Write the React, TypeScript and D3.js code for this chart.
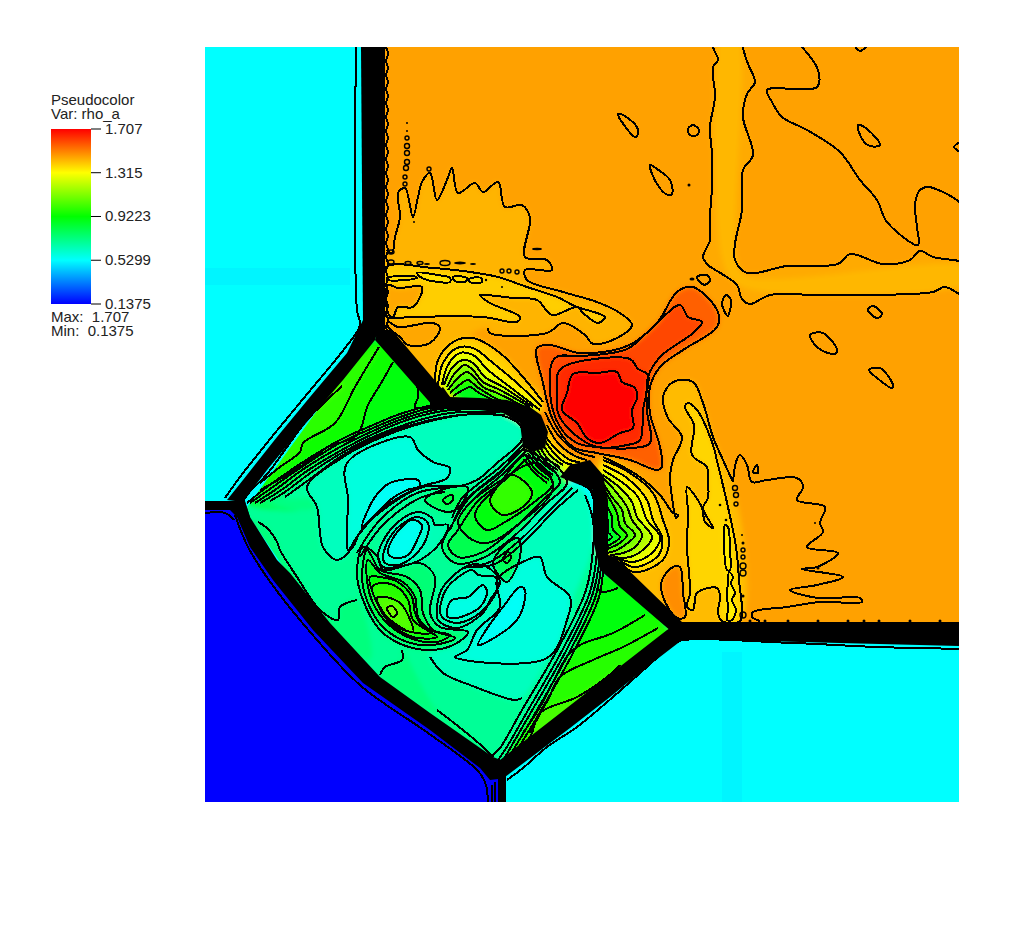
import React from 'react';
import * as d3 from 'd3';

// rho_a iso-levels, in mesh cells. Each level: value, contour points,
// optional hidden points (only used to close the fill under a shock).
type P = number[];
type Level = { v: number; pts: P[]; tail?: P[]; line?: boolean };
const lv = (v: number, pts: P[], tail?: P[], line = true): Level => ({ v, pts, tail, line });

const legendTicks = [1.707, 1.315, 0.9223, 0.5299, 0.1375];
const legendLabels = ['1.707', '1.315', '0.9223', '0.5299', '0.1375'];
const legendColors = ['#ff0000', '#ffff00', '#00ff00', '#00ffff', '#0000ff'];

const ambientCyan: P[] = [[5, 7], [759, 7], [759, 762], [5, 762]];
const ambientBlue: P[] = [[5, 470], [40, 470], [120, 585], [230, 685], [298, 735], [298, 762], [5, 762]];
const ambientStreaks: P[][] = [
  [[5, 228], [150, 228], [150, 245], [5, 245]],
  [[522, 612], [542, 612], [542, 762], [522, 762]],
];
const interiorClip: P[] = [[172, 7], [759, 7], [759, 592], [478, 592], [302, 728], [230, 678], [180, 642], [130, 588], [90, 537], [45, 470], [172, 295]];

const upperField: Level[] = [
  lv(1.46, [[172, -30], [800, -30], [800, 592], [478, 592], [400, 517], [395, 450], [340, 395], [240, 365], [178, 295]], undefined, false),
  lv(1.445, [[513, -10], [513, 7], [518, 20], [513, 27], [515, 57], [510, 87], [512, 114], [512, 147], [510, 177], [510, 200], [503, 217], [508, 225], [522, 234], [537, 245], [542, 259], [550, 264], [570, 255], [617, 255], [667, 255], [733, 252], [745, 247], [770, 258], [770, 226], [733, 217], [720, 211], [710, 220], [683, 224], [650, 214], [638, 224], [587, 226], [547, 233], [535, 220], [535, 204], [542, 170], [543, 130], [553, 115], [543, 77], [547, 54], [555, 42], [548, 24], [543, 7], [543, -10]]),
  lv(1.425, [[524, -10], [537, -10], [537, 220], [546, 236], [770, 227], [770, 242], [540, 246], [524, 225]], undefined, false),
  lv(1.43, [[187, 210], [192, 213], [195, 197], [200, 177], [198, 153], [205, 148], [213, 177], [218, 157], [222, 142], [230, 133], [237, 160], [247, 140], [252, 128], [258, 153], [275, 143], [283, 152], [298, 142], [305, 167], [322, 165], [330, 178], [325, 217], [347, 220], [352, 230], [325, 230], [327, 240], [363, 252], [397, 262], [420, 273], [432, 285], [417, 298], [393, 304], [385, 295], [363, 283], [347, 293], [290, 293], [288, 288]], [[270, 295], [232, 345], [180, 310], [180, 210]]),
  lv(1.39, [[185, 228], [233, 228], [277, 233], [298, 237], [327, 247], [357, 257], [377, 267], [397, 273], [405, 277], [398, 283], [383, 273], [377, 267], [352, 275], [337, 260], [313, 258], [287, 255], [280, 255], [290, 263], [320, 277], [317, 282], [283, 277], [213, 277], [193, 278], [187, 277]]),
  lv(1.45, [[188, 245], [198, 248], [222, 247], [213, 267], [198, 267], [193, 277], [188, 273]]),
  lv(1.45, [[188, 282], [198, 287], [233, 283], [240, 288], [230, 303], [208, 305], [200, 297], [188, 287]]),
  lv(1.35, [[187, 238], [213, 236], [217, 238], [188, 240]]),
  lv(1.35, [[217, 233], [238, 235], [250, 238], [250, 242], [238, 242], [222, 238]]),
  lv(1.35, [[253, 237], [267, 238], [265, 242], [255, 241]]),
  lv(1.35, [[269, 239], [281, 238], [282, 242], [270, 242]]),
];

const upperFan: Level[] = [
  lv(1.39, [[235, 345], [238, 320], [253, 302], [273, 298], [300, 313], [323, 337], [343, 362]], [[290, 372]]),
  lv(1.34, [[238, 345], [243, 323], [257, 308], [273, 308], [293, 323], [317, 343], [342, 367]], [[290, 372]]),
  lv(1.28, [[242, 345], [248, 325], [260, 313], [273, 315], [288, 330], [310, 347], [340, 370]], [[290, 372]]),
  lv(1.2, [[244, 345], [252, 328], [263, 320], [273, 323], [285, 337], [303, 347], [333, 367]], [[290, 372]]),
  lv(1.12, [[247, 347], [255, 333], [265, 325], [273, 330], [283, 342], [300, 350], [330, 367]], [[290, 372]]),
  lv(1.03, [[248, 350], [258, 338], [267, 332], [275, 338], [283, 347], [297, 353], [327, 368]], [[290, 372]]),
  lv(0.95, [[250, 353], [262, 343], [268, 340], [277, 347], [285, 352], [293, 357], [323, 370]], [[290, 372]]),
  lv(0.88, [[253, 356], [265, 349], [270, 347], [279, 353], [287, 357], [310, 368]], [[290, 372]]),
];

const rightColumn: Level[] = [
  lv(1.42, [[403, 417], [437, 435], [460, 455], [473, 473], [478, 475], [476, 478], [472, 457], [470, 437], [473, 420], [482, 397], [468, 378], [463, 357], [473, 342], [493, 342], [503, 363], [513, 397], [523, 420], [533, 442]], [[538, 585], [440, 585], [410, 510]]),
  lv(1.38, [[485, 367], [488, 363], [497, 370], [512, 402], [518, 425], [528, 467], [536, 507], [539, 540], [540, 581], [522, 581], [518, 573], [520, 557], [517, 548], [497, 553], [493, 570], [487, 567], [490, 553], [487, 507], [488, 473], [487, 447], [493, 453], [502, 468], [505, 482], [513, 488], [510, 482], [503, 468], [508, 458], [508, 440], [507, 427], [492, 415], [494, 385]]),
  lv(1.49, [[462, 540], [473, 527], [480, 527], [483, 553], [485, 577], [477, 578], [463, 557]]),
  lv(1.33, [[525, 485], [528, 487], [530, 510], [530, 530], [527, 530], [524, 500]]),
  lv(1.33, [[529, 532], [533, 537], [531, 543], [535, 553], [532, 560], [536, 570], [532, 580], [527, 580], [528, 570], [527, 553], [528, 543]]),
];

const rightFan: Level[] = [
  lv(1.38, [[403, 420], [430, 433], [453, 453], [463, 480], [469, 500], [465, 517], [453, 527], [433, 532], [420, 522]], [[400, 475]]),
  lv(1.33, [[403, 425], [427, 438], [447, 460], [453, 480], [462, 497], [460, 513], [450, 522], [433, 527], [417, 518]], [[400, 475]]),
  lv(1.28, [[403, 430], [423, 443], [438, 457], [447, 480], [460, 497], [452, 513], [433, 522], [415, 517]], [[400, 475]]),
  lv(1.2, [[403, 435], [420, 448], [432, 462], [437, 477], [452, 497], [445, 508], [430, 517], [413, 517]], [[400, 475]]),
  lv(1.12, [[403, 438], [417, 453], [427, 467], [432, 480], [442, 495], [435, 507], [423, 513], [410, 515]], [[400, 475]]),
  lv(1.03, [[403, 443], [412, 457], [422, 470], [425, 483], [435, 495], [425, 505], [417, 510], [407, 513]], [[400, 475]]),
  lv(0.95, [[403, 448], [412, 463], [417, 473], [420, 487], [427, 495], [420, 503], [412, 507], [405, 510]], [[400, 475]]),
  lv(0.87, [[403, 455], [408, 468], [412, 477], [413, 490], [420, 497], [413, 503], [405, 507]], [[400, 475]]),
  lv(0.8, [[403, 462], [406, 472], [408, 482], [408, 492], [412, 497], [407, 501]], [[400, 475]]),
];

const redPeak: Level[] = [
  lv(1.56, [[337, 308], [350, 305], [380, 313], [427, 306], [457, 283], [477, 252], [493, 247], [518, 272], [517, 287], [483, 310], [460, 327], [450, 347], [450, 373], [460, 407], [462, 427], [457, 430], [430, 420], [397, 413], [373, 407], [353, 380], [343, 343]]),
  lv(1.6, [[355, 318], [383, 316], [427, 309], [453, 287], [480, 265], [488, 277], [502, 282], [493, 293], [460, 317], [448, 337], [447, 370], [450, 403], [433, 408], [397, 407], [377, 403], [360, 387], [350, 353]]),
  lv(1.64, [[358, 333], [367, 325], [430, 319], [438, 329], [448, 335], [443, 370], [440, 400], [427, 405], [397, 407], [373, 393], [358, 373], [357, 350]]),
  lv(1.7, [[373, 334], [397, 333], [417, 332], [422, 342], [435, 348], [437, 358], [432, 370], [433, 388], [420, 393], [400, 403], [387, 398], [377, 383], [362, 370], [367, 353]]),
];

const centerBase: Level[] = [
  lv(0.69, [[176, 292], [245, 368], [340, 395], [400, 517], [472, 590], [297, 733], [240, 685], [180, 645], [130, 590], [90, 540], [35, 468]], undefined, false),
  lv(0.73, [[58, 482], [67, 488], [77, 502], [80, 510], [97, 537], [120, 570], [138, 580], [140, 567], [157, 560]], [[170, 620], [90, 550], [45, 480]]),
  lv(0.73, [[202, 610], [202, 620], [185, 627], [180, 635]], [[240, 680], [293, 717], [283, 707], [263, 690], [237, 670]], false),
];

const leftWedge: Level[] = [
  lv(0.9, [[175, 298], [235, 365], [233, 370], [187, 380], [140, 407], [100, 430], [47, 463]], undefined, false),
  lv(0.94, [[193, 322], [180, 345], [168, 365], [157, 395], [128, 407], [110, 420], [87, 435], [60, 450]], [[45, 462], [175, 305]]),
  lv(0.99, [[179, 307], [155, 347], [135, 383], [103, 403], [100, 412], [80, 427], [60, 443]], [[43, 460], [120, 350]]),
  lv(1.04, [[142, 346], [125, 362], [107, 380], [87, 407], [68, 433], [47, 455], [43, 462]], [[130, 335]]),
];
const wedgeBay: P[] = [[217, 345], [218, 357], [215, 367], [233, 367]];

const rightWedge: Level[] = [
  lv(0.91, [[403, 533], [467, 590], [305, 720], [322, 688], [360, 633], [395, 550]], undefined, false),
  lv(0.95, [[445, 575], [413, 593], [380, 605], [368, 615], [355, 638], [340, 667], [323, 693]], [[305, 722], [470, 590]]),
  lv(0.98, [[458, 588], [423, 607], [393, 620], [360, 637], [348, 660], [342, 670], [330, 693]], [[310, 722], [470, 590]]),
  lv(1.03, [[420, 625], [407, 637], [377, 657], [340, 673], [330, 697], [308, 720]], [[310, 725], [400, 650]]),
];
const rightBay: P[] = [[397, 548], [402, 552], [418, 548]];

const upperLobeBands: Level[] = [
  lv(0.88, [[47, 463], [67, 447], [100, 424], [140, 400], [173, 385], [200, 374], [233, 365], [250, 363]], [[330, 395], [200, 440], [100, 470]]),
  lv(0.84, [[50, 463], [70, 449], [103, 426], [140, 403], [173, 388], [203, 376], [235, 367], [265, 366]], [[330, 395], [200, 440], [100, 470]]),
  lv(0.8, [[55, 463], [75, 450], [105, 428], [140, 407], [173, 391], [205, 378], [240, 369], [280, 368]], [[330, 395], [200, 440], [100, 470]]),
  lv(0.76, [[60, 463], [80, 451], [107, 431], [140, 411], [173, 394], [207, 380], [243, 371], [290, 369]], [[330, 395], [200, 440], [100, 470]]),
  lv(0.72, [[70, 461], [85, 452], [109, 434], [140, 414], [173, 397], [210, 383], [250, 373], [300, 372]], [[330, 395], [200, 440], [100, 470]]),
  lv(0.68, [[85, 457], [110, 439], [140, 417], [173, 399], [215, 384], [260, 375], [305, 375]], [[330, 395], [200, 440]]),
];

const lobes: Level[] = [
  lv(0.63, [[107, 447], [140, 419], [173, 401], [223, 383], [273, 374], [307, 377], [322, 388], [322, 400], [297, 423], [277, 440], [260, 446], [223, 447], [183, 470], [160, 492], [153, 507], [137, 520], [123, 507], [117, 467]]),
  lv(0.58, [[147, 423], [210, 397], [218, 410], [233, 422], [250, 428], [247, 438], [220, 447], [183, 468], [157, 497], [148, 510], [148, 460]]),
  lv(0.54, [[162, 487], [175, 457], [190, 443], [218, 440], [220, 446], [207, 450], [190, 460], [170, 480]]),
  lv(0.63, [[230, 617], [243, 633], [270, 645], [315, 660], [322, 658]], [[345, 625], [372, 560], [392, 510], [392, 475], [385, 452], [372, 445], [340, 470], [300, 510], [270, 540], [240, 590]]),
  lv(0.58, [[255, 617], [267, 610], [277, 590], [300, 567], [297, 540], [327, 520], [340, 517], [347, 537], [370, 557], [367, 580], [347, 618]]),
  lv(0.54, [[278, 605], [317, 580], [325, 550], [320, 547], [303, 567], [288, 587]]),
];

const stemFan: Level[] = [
  lv(1.5, [[345, 372], [358, 395], [378, 412], [395, 417]], [[370, 440], [320, 430]]),
  lv(1.42, [[347, 385], [358, 403], [375, 416], [387, 420]], [[370, 440], [320, 430]]),
  lv(1.34, [[346, 397], [355, 408], [370, 420], [380, 422]], [[365, 442], [320, 430]]),
  lv(1.28, [[344, 399], [354, 413], [366, 423], [375, 425]], [[360, 442], [310, 440]]),
  lv(1.22, [[341, 401], [351, 416], [363, 425]], [[355, 442], [310, 440]]),
  lv(1.16, [[338, 403], [348, 419], [360, 427]], [[350, 445], [305, 445]]),
  lv(1.1, [[335, 405], [345, 421], [358, 430]], [[350, 445], [305, 445]]),
  lv(1.05, [[332, 408], [343, 423], [355, 432]], [[350, 445], [305, 445]]),
  lv(1.0, [[330, 411], [340, 425], [353, 435]], [[350, 447], [305, 445]]),
  lv(0.96, [[328, 413], [338, 427], [352, 438]], [[350, 447], [305, 445]]),
  lv(0.92, [[326, 416], [335, 429], [349, 440]], [[345, 450], [305, 445]]),
  lv(0.88, [[324, 419], [333, 431], [347, 443]], [[340, 452], [305, 445]]),
];

const stem: Level[] = [
  lv(0.76, [[322, 410], [300, 433], [270, 457], [253, 483], [242, 507], [255, 523], [283, 518], [313, 497], [347, 463], [367, 443], [353, 423], [340, 417]]),
  lv(0.8, [[330, 418], [305, 440], [277, 462], [258, 490], [248, 505], [258, 517], [283, 512], [310, 492], [345, 458], [360, 442], [347, 425]]),
  lv(0.85, [[258, 482], [268, 497], [287, 503], [320, 483], [353, 448], [337, 423], [297, 443], [270, 463]]),
  lv(0.91, [[275, 475], [287, 490], [305, 482], [333, 463], [353, 443], [337, 425], [325, 415], [300, 443]]),
  lv(1.0, [[312, 435], [332, 452], [325, 465], [303, 475], [290, 462], [295, 450]]),
];

const vortices: Level[] = [
  lv(0.64, [[178, 517], [182, 503], [198, 482], [218, 472], [232, 478], [235, 485], [248, 485], [240, 503], [220, 520], [197, 527], [183, 527]]),
  lv(0.6, [[183, 517], [190, 497], [205, 482], [218, 477], [228, 483], [227, 497], [215, 515], [198, 525], [185, 523]]),
  lv(0.55, [[188, 513], [195, 495], [212, 480], [222, 485], [218, 498], [208, 515], [195, 518]]),
  lv(0.66, [[237, 567], [243, 547], [270, 525], [287, 527], [300, 542], [290, 560], [283, 573], [257, 588], [238, 580]]),
  lv(0.62, [[240, 570], [247, 548], [272, 530], [278, 535], [295, 537], [297, 550], [280, 573], [257, 583], [242, 577]]),
  lv(0.57, [[247, 570], [252, 560], [268, 557], [283, 545], [287, 552], [280, 567], [257, 578], [248, 577]]),
  lv(0.78, [[225, 460], [252, 447], [268, 448], [258, 468], [247, 472]]),
  lv(0.86, [[243, 460], [252, 455], [253, 460], [247, 464]]),
  lv(0.78, [[293, 523], [303, 507], [318, 498], [320, 517], [307, 542], [300, 537]]),
  lv(0.88, [[303, 520], [308, 512], [311, 517], [307, 523]]),
];

const lowerCore: Level[] = [
  lv(0.74, [[163, 507], [157, 533], [163, 560], [180, 590], [203, 605], [233, 610], [257, 603], [268, 592], [240, 587], [230, 573], [235, 537], [220, 523], [183, 530], [178, 517]]),
  lv(0.8, [[167, 510], [162, 537], [168, 563], [183, 587], [207, 602], [233, 605], [255, 598], [233, 590], [223, 573], [220, 550], [207, 537], [180, 530], [172, 517]]),
  lv(0.86, [[168, 520], [167, 540], [173, 563], [187, 583], [210, 598], [237, 602], [250, 595], [230, 590], [218, 577], [215, 557], [203, 542], [180, 533]]),
  lv(0.92, [[170, 537], [177, 563], [190, 583], [213, 597], [237, 597], [223, 587], [215, 573], [212, 557], [198, 542], [180, 537]]),
  lv(0.98, [[172, 547], [180, 567], [197, 587], [217, 593], [230, 593], [213, 580], [208, 560], [197, 547], [183, 543]]),
  lv(1.05, [[177, 558], [185, 557], [200, 563], [208, 575], [213, 592], [200, 587], [183, 572]]),
  lv(1.12, [[187, 568], [192, 566], [197, 573], [193, 577]]),
];

// open isolines that bound nothing we fill
const isolines: P[][] = [
  [[533, 442], [536, 422], [540, 415], [547, 425], [552, 442], [567, 440], [597, 438], [603, 447], [597, 460], [625, 467], [620, 483], [623, 492], [607, 507], [638, 513], [617, 527], [602, 529], [643, 537], [617, 545], [590, 550], [618, 558], [660, 558], [662, 562], [620, 562], [587, 567], [553, 572], [552, 577], [560, 581]],
  [[602, 7], [618, 30], [617, 47], [567, 50], [572, 62], [582, 77], [607, 90], [640, 112], [660, 140], [677, 160], [687, 182], [718, 205], [717, 187], [715, 164], [720, 150], [728, 147], [747, 154], [762, 164]],
  [[180, 635], [185, 627], [202, 620], [202, 610]],
  [[237, 670], [263, 690], [283, 707], [293, 717]],
  [[323, 405], [300, 427], [277, 445], [262, 458], [252, 478]],
  [[325, 407], [302, 430], [278, 449], [264, 462], [250, 490]],
  [[327, 410], [304, 433], [280, 453], [266, 467]],
  [[262, 528], [290, 522], [320, 500], [352, 468], [372, 448]],
  [[272, 527], [295, 524], [323, 503], [355, 470], [378, 450]],
  [[157, 513], [180, 480], [217, 453], [257, 447]],
  [[160, 517], [183, 485], [220, 458], [245, 452]],
  [[378, 443], [390, 450], [397, 480], [397, 512], [390, 552], [364, 607], [327, 672], [305, 710], [298, 720]],
  [[382, 445], [393, 452], [400, 482], [400, 514], [393, 553], [367, 609], [330, 674], [308, 712], [302, 722]],
  [[388, 448], [396, 456], [402, 484], [402, 516], [396, 555], [370, 611], [333, 677], [311, 714], [306, 724]],
  [[393, 452], [399, 460], [404, 488], [404, 518], [399, 557], [373, 613], [336, 679], [314, 716], [310, 726]],
  [[385, 455], [393, 480], [393, 510], [386, 550], [360, 605], [322, 670], [300, 708], [292, 716]],
  [[156, -5], [157, 270], [160, 285], [145, 308], [108, 353], [75, 393], [40, 437], [25, 458]],
  [[35, 475], [48, 507], [71, 543], [111, 593], [161, 646], [228, 693], [278, 731], [286, 745], [288, 770]],
  [[5, 473], [25, 473], [34, 480]],
  [[292, 770], [292, 745]],
  [[295, 770], [295, 742]],
  [[307, 740], [323, 728], [347, 707], [377, 687], [413, 657], [447, 627], [477, 602], [500, 598]],
  [[467, 607], [477, 601], [593, 603], [677, 607], [770, 609]],
  [[186, 7], [188, 14], [186, 21], [188, 28], [186, 35], [188, 42], [186, 49], [188, 56], [186, 63], [188, 70], [186, 77], [188, 84], [186, 91], [188, 98], [186, 105], [188, 112], [186, 119], [188, 126], [186, 133], [188, 140], [186, 147], [188, 154], [186, 161], [188, 168], [186, 175], [188, 182], [186, 189], [188, 196], [186, 203], [188, 210], [186, 217], [188, 224], [186, 231], [188, 238], [186, 245], [188, 252], [186, 259], [188, 266], [186, 273], [188, 280], [186, 287], [188, 292]],
];

const patches: P[][] = [
  [[418, 74], [423, 75], [437, 87], [438, 94], [435, 97], [427, 89]],
  [[488, 89], [493, 85], [499, 90], [497, 95], [490, 95]],
  [[450, 125], [457, 129], [470, 140], [472, 154], [468, 155], [457, 144]],
  [[658, 85], [667, 89], [680, 105], [670, 106], [662, 99]],
  [[762, 102], [754, 107], [762, 112]],
  [[655, 5], [660, 11], [667, 5]],
  [[497, 237], [507, 235], [510, 240], [507, 244], [502, 244]],
  [[522, 264], [526, 255], [531, 260], [530, 270], [528, 276]],
  [[668, 270], [673, 266], [682, 274], [677, 278]],
  [[610, 295], [623, 293], [637, 310], [635, 314], [618, 308]],
  [[669, 330], [680, 328], [693, 345], [692, 348], [677, 338]],
  [[553, 432], [557, 425], [558, 433]],
];

// tiny closed isolines: x, y, rx, ry, solid (1) or ring (0)
const specks: number[][] = [
  [207, 83, 1, 1, 1], [207, 91, 1, 1, 1], [207, 98, 2, 2, 0], [207, 106, 2.5, 2.5, 0], [207, 113, 2.5, 2.5, 0], [207, 122, 2.5, 2.5, 0], [206, 128, 2.5, 2.5, 0], [205, 137, 2, 2, 0], [205, 144, 2, 2, 0],
  [229, 129, 2, 2, 0], [214, 182, 1, 1, 1], [191, 212, 3, 2, 0], [191, 222, 3, 2, 0], [208, 223, 3, 1.5, 0], [220, 223, 3, 1.5, 0], [227, 224, 3, 1, 1], [245, 223, 5, 2.5, 0], [260, 223, 6, 1.5, 1], [273, 224, 3, 1, 1], [337, 209, 5, 1.2, 1],
  [302, 231, 2, 2, 0], [309, 231, 2, 2, 0], [317, 232, 2, 2, 0], [286, 240, 1.2, 1.2, 1], [302, 247, 1, 1, 1], [489, 145, 1.5, 1.5, 1], [492, 239, 2.5, 1.5, 1],
  [535, 448, 2.5, 2.5, 0], [536, 455, 2.5, 2.5, 0], [536, 464, 2, 2, 0], [520, 465, 1.3, 1.3, 1], [526, 480, 1.3, 1.3, 1], [542, 495, 1, 1, 1], [543, 503, 1.5, 1.5, 1], [543, 510, 2, 2, 0], [543, 517, 2, 2, 0], [543, 526, 3, 3, 0], [543, 533, 3, 3, 0], [543, 556, 1.5, 1.5, 1], [615, 483, 1, 1, 1], [618, 528, 1.5, 1.5, 1], [543, 575, 3, 3, 0],
  [550, 581, 1.5, 1.5, 1], [565, 581, 1.5, 1.5, 1], [588, 581, 1.5, 1.5, 1], [618, 581, 1.5, 1.5, 1], [648, 581, 1.5, 1.5, 1], [664, 581, 1.5, 1.5, 1], [679, 581, 1.5, 1.5, 1], [710, 581, 1.5, 1.5, 1], [740, 581, 1.5, 1.5, 1],
];

const shockBands: P[][] = [
  [[161, 7], [185, 7], [185, 295], [180, 300], [163, 283]],
  [[163, 280], [147, 313], [110, 357], [77, 397], [43, 440], [27, 460], [43, 462], [67, 430], [100, 390], [143, 340], [175, 300], [178, 290]],
  [[5, 461], [45, 461], [50, 477], [37, 477], [30, 470], [5, 470]],
  [[45, 462], [50, 477], [77, 520], [90, 533], [130, 583], [180, 637], [230, 673], [293, 717], [306, 722], [306, 738], [290, 740], [280, 728], [230, 690], [163, 643], [113, 590], [73, 540], [50, 507], [37, 477]],
  [[298, 735], [306, 730], [306, 762], [298, 762]],
  [[300, 720], [467, 590], [480, 582], [482, 600], [443, 630], [410, 657], [370, 688], [305, 737], [296, 735]],
  [[470, 592], [478, 582], [759, 582], [759, 606], [600, 602], [480, 599]],
  [[178, 290], [192, 290], [243, 350], [250, 357], [240, 368], [233, 366], [175, 300]],
  [[230, 357], [243, 347], [250, 357], [280, 358], [307, 360], [330, 367], [341, 375], [348, 392], [345, 408], [332, 412], [323, 407], [320, 383], [303, 373], [263, 368], [230, 370]],
  [[370, 425], [390, 420], [403, 435], [408, 460], [408, 515], [415, 517], [482, 582], [472, 592], [400, 530], [393, 500], [393, 450], [375, 443], [360, 437]],
];

const layers: Level[] = [
  ...upperField, ...upperFan, ...rightColumn, ...rightFan, ...redPeak,
  ...centerBase, ...leftWedge, ...rightWedge, ...upperLobeBands, ...lobes,
  ...stemFan, ...stem, ...lowerCore, ...vortices,
];

const color = d3.scaleLinear<string>().domain(legendTicks).range(legendColors);
const x = d3.scaleLinear().domain([5, 759]).range([205, 959]);
const y = d3.scaleLinear().domain([7, 762]).range([47, 802]);
const legendY = d3.scaleLinear().domain([0.1375, 1.707]).range([304, 129]);

const openPath = d3.line<P>().x(d => x(d[0])).y(d => y(d[1])).curve(d3.curveCatmullRom.alpha(0.5));
const closedPath = d3.line<P>().x(d => x(d[0])).y(d => y(d[1])).curve(d3.curveCatmullRomClosed.alpha(0.5));
const polyPath = d3.line<P>().x(d => x(d[0])).y(d => y(d[1])).curve(d3.curveLinearClosed);

const lineStyle = { fill: 'none', stroke: '#000', strokeWidth: 2, strokeLinejoin: 'round' as const, shapeRendering: 'crispEdges' as const };
const font = { fontFamily: '"Liberation Sans", Arial, sans-serif', fontSize: 15, fill: '#222' };

export default function App() {
  return (
    <svg width={1024} height={943} style={{ position: 'absolute', left: 0, top: 0, display: 'block', background: '#fff' }}>
      <defs>
        <clipPath id="plot"><rect x={x(5)} y={y(7)} width={x(759) - x(5)} height={y(762) - y(7)} /></clipPath>
        <clipPath id="interior"><path d={polyPath(interiorClip) ?? ''} /></clipPath>
        <filter id="soft" filterUnits="userSpaceOnUse" x={150} y={-60} width={950} height={950}>
          <feGaussianBlur stdDeviation={2.4} />
        </filter>
        <linearGradient id="ramp" x1={0} x2={0} y1={0} y2={1}>
          {legendTicks.map((t, i) => (
            <stop key={t} offset={i / (legendTicks.length - 1)} stopColor={color(t)} />
          ))}
        </linearGradient>
      </defs>

      <g clipPath="url(#plot)">
        <path d={polyPath(ambientCyan) ?? ''} fill={color(0.5299)} />
        {ambientStreaks.map((s, i) => <path key={i} d={polyPath(s) ?? ''} fill={color(0.515)} />)}
        <path d={polyPath(ambientBlue) ?? ''} fill={color(0.1375)} />
        <g clipPath="url(#interior)">
          <g filter="url(#soft)">
            {layers.map((l, i) => (
              <path key={i} d={closedPath(l.tail ? [...l.pts, ...l.tail] : l.pts) ?? ''} fill={color(l.v)} />
            ))}
          </g>
        </g>
        {shockBands.map((b, i) => <path key={i} d={polyPath(b) ?? ''} fill="#000" />)}
        <g {...lineStyle}>
          {layers.filter(l => l.line).map((l, i) => (
            <path key={i} d={(l.tail ? openPath(l.pts) : closedPath(l.pts)) ?? ''} />
          ))}
          {[wedgeBay, rightBay, ...isolines].map((l, i) => <path key={i} d={openPath(l) ?? ''} />)}
          {patches.map((l, i) => <path key={i} d={closedPath(l) ?? ''} />)}
        </g>
        {specks.map((s, i) => (
          <ellipse key={i} cx={x(s[0])} cy={y(s[1])} rx={s[2]} ry={s[3]}
            fill={s[4] ? '#000' : 'none'} stroke="#000" strokeWidth={s[4] ? 0 : 1.4} />
        ))}
      </g>

      <g style={font}>
        <text x={51} y={105}>Pseudocolor</text>
        <text x={51} y={119}>Var: rho_a</text>
        <rect x={51} y={legendY(1.707)} width={40} height={legendY(0.1375) - legendY(1.707)} fill="url(#ramp)" />
        {legendTicks.map((t, i) => (
          <g key={t}>
            <line x1={91} x2={101} y1={legendY(t)} y2={legendY(t)} stroke="#000" strokeWidth={1} />
            <text x={105} y={legendY(t) + 5}>{legendLabels[i]}</text>
          </g>
        ))}
        <text x={51} y={322} xmlSpace="preserve">{'Max:  1.707'}</text>
        <text x={51} y={336} xmlSpace="preserve">{'Min:  0.1375'}</text>
      </g>
    </svg>
  );
}
